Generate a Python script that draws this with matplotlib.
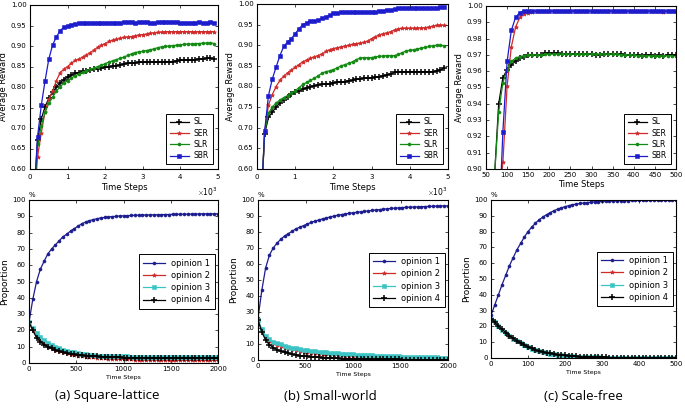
import numpy as np
import matplotlib
matplotlib.use("Agg")
import matplotlib.pyplot as plt
from matplotlib.ticker import FormatStrFormatter, MultipleLocator, ScalarFormatter

plt.style.use('classic')
plt.rcParams.update({
    'figure.facecolor': 'white',
    'savefig.facecolor': 'white',
    'font.family': ['DejaVu Sans'],
    'font.size': 5,
    'xtick.labelsize': 5,
    'ytick.labelsize': 5,
    'axes.labelsize': 6,
    'legend.fontsize': 5.5,
    'legend.numpoints': 1,
    'lines.linewidth': 0.9,
    'xtick.major.size': 2.5,
    'ytick.major.size': 2.5,
    'xtick.major.pad': 2.5,
    'ytick.major.pad': 2.5,
    'axes.linewidth': 0.8,
})

# ---------------- data ----------------
reward_steps_ab = np.arange(100, 5000, 100)   # 49 samples
reward_steps_c = np.arange(70, 510, 10)       # 44 samples
prop_steps_ab = np.arange(0, 2040, 40)        # 51 samples
prop_steps_c = np.arange(0, 510, 10)          # 51 samples

methods = ['SL', 'SER', 'SLR', 'SBR']
opinions = ['opinion 1', 'opinion 2', 'opinion 3', 'opinion 4']
captions = ['(a) Square-lattice', '(b) Small-world', '(c) Scale-free']

SL_a = [0.52, 0.67, 0.722, 0.752, 0.772, 0.787, 0.80, 0.81, 0.818, 0.824,
        0.829, 0.833, 0.835, 0.838, 0.84, 0.842, 0.843, 0.845, 0.846, 0.848,
        0.849, 0.851, 0.852, 0.854, 0.856, 0.858, 0.859, 0.859, 0.86, 0.86,
        0.86, 0.86, 0.861, 0.861, 0.861, 0.862, 0.862, 0.862, 0.864, 0.865,
        0.866, 0.866, 0.866, 0.867, 0.868, 0.868, 0.87, 0.87, 0.869]
SER_a = [0.50, 0.63, 0.688, 0.74, 0.77, 0.79, 0.815, 0.835, 0.843, 0.85,
         0.858, 0.865, 0.868, 0.873, 0.878, 0.884, 0.89, 0.897, 0.902, 0.906,
         0.911, 0.914, 0.916, 0.919, 0.921, 0.922, 0.923, 0.925, 0.927, 0.928,
         0.929, 0.931, 0.932, 0.933, 0.934, 0.935, 0.935, 0.935, 0.935, 0.935,
         0.935, 0.935, 0.935, 0.935, 0.935, 0.935, 0.935, 0.935, 0.935]
SLR_a = [0.50, 0.66, 0.705, 0.738, 0.76, 0.775, 0.79, 0.80, 0.81, 0.815,
         0.822, 0.827, 0.832, 0.836, 0.84, 0.843, 0.846, 0.85, 0.853, 0.857,
         0.861, 0.864, 0.867, 0.87, 0.873, 0.877, 0.881, 0.884, 0.886, 0.887,
         0.889, 0.891, 0.893, 0.896, 0.898, 0.899, 0.90, 0.901, 0.902, 0.903,
         0.904, 0.905, 0.905, 0.906, 0.906, 0.907, 0.907, 0.908, 0.906]
SBR_a = [0.52, 0.678, 0.755, 0.815, 0.868, 0.902, 0.922, 0.937, 0.946, 0.949,
         0.952, 0.954, 0.955, 0.955, 0.955, 0.955, 0.955, 0.955, 0.955, 0.955,
         0.956, 0.956, 0.957, 0.957, 0.958, 0.958, 0.958, 0.957, 0.958, 0.958,
         0.958, 0.957, 0.957, 0.958, 0.958, 0.959, 0.959, 0.958, 0.958, 0.957,
         0.957, 0.957, 0.957, 0.957, 0.958, 0.957, 0.957, 0.958, 0.957]

SL_b = [0.50, 0.685, 0.725, 0.738, 0.75, 0.76, 0.768, 0.775, 0.781, 0.786,
        0.79, 0.793, 0.797, 0.80, 0.802, 0.804, 0.805, 0.806, 0.807, 0.809,
        0.81, 0.811, 0.812, 0.814, 0.815, 0.817, 0.818, 0.82, 0.82, 0.821,
        0.822, 0.824, 0.826, 0.828, 0.831, 0.834, 0.836, 0.836, 0.836, 0.836,
        0.836, 0.836, 0.836, 0.836, 0.836, 0.836, 0.838, 0.84, 0.845]
SER_b = [0.50, 0.69, 0.755, 0.78, 0.80, 0.815, 0.825, 0.833, 0.84, 0.847,
         0.853, 0.86, 0.864, 0.868, 0.872, 0.875, 0.879, 0.885, 0.889, 0.892,
         0.894, 0.896, 0.898, 0.90, 0.902, 0.904, 0.905, 0.907, 0.91, 0.916,
         0.921, 0.925, 0.928, 0.93, 0.933, 0.937, 0.94, 0.941, 0.941, 0.941,
         0.941, 0.942, 0.942, 0.943, 0.944, 0.946, 0.948, 0.949, 0.948]
SLR_b = [0.50, 0.69, 0.735, 0.75, 0.76, 0.767, 0.773, 0.778, 0.784, 0.79,
         0.797, 0.805, 0.81, 0.815, 0.82, 0.826, 0.832, 0.836, 0.838, 0.841,
         0.845, 0.85, 0.853, 0.856, 0.86, 0.865, 0.869, 0.87, 0.87, 0.87,
         0.872, 0.873, 0.874, 0.875, 0.875, 0.875, 0.878, 0.882, 0.886, 0.888,
         0.889, 0.891, 0.893, 0.895, 0.897, 0.899, 0.90, 0.90, 0.899]
SBR_b = [0.50, 0.692, 0.778, 0.818, 0.847, 0.875, 0.897, 0.908, 0.916, 0.928,
         0.94, 0.95, 0.955, 0.958, 0.96, 0.961, 0.965, 0.969, 0.973, 0.977,
         0.979, 0.98, 0.98, 0.98, 0.98, 0.98, 0.98, 0.98, 0.98, 0.98,
         0.981, 0.982, 0.984, 0.985, 0.986, 0.988, 0.99, 0.991, 0.991, 0.991,
         0.991, 0.991, 0.991, 0.991, 0.991, 0.991, 0.991, 0.992, 0.992]

SL_c = [0.895, 0.94, 0.956, 0.961, 0.964, 0.966, 0.968, 0.969, 0.97, 0.97,
        0.97, 0.97, 0.971, 0.971, 0.971, 0.971, 0.9705, 0.9705, 0.9705, 0.9705,
        0.9705, 0.9705, 0.9705, 0.9705, 0.970, 0.970, 0.9705, 0.9705, 0.9705, 0.9705,
        0.9705, 0.970, 0.970, 0.970, 0.970, 0.9695, 0.970, 0.970, 0.9695, 0.970,
        0.9695, 0.970, 0.970, 0.970]
SER_c = [0.80, 0.88, 0.904, 0.951, 0.975, 0.987, 0.993, 0.995, 0.996, 0.9965,
         0.9968, 0.997, 0.997, 0.997, 0.997, 0.997, 0.997, 0.997, 0.997, 0.997,
         0.997, 0.9972, 0.9972, 0.997, 0.997, 0.997, 0.997, 0.997, 0.997, 0.997,
         0.997, 0.997, 0.997, 0.997, 0.997, 0.997, 0.997, 0.9968, 0.997, 0.997,
         0.9966, 0.997, 0.997, 0.997]
SLR_c = [0.895, 0.935, 0.953, 0.961, 0.966, 0.968, 0.969, 0.9695, 0.97, 0.97,
         0.97, 0.97, 0.9705, 0.9705, 0.9705, 0.9705, 0.9705, 0.9705, 0.9705, 0.9705,
         0.9705, 0.9705, 0.9705, 0.9705, 0.9705, 0.9705, 0.9705, 0.9705, 0.9705, 0.9705,
         0.970, 0.970, 0.970, 0.970, 0.9695, 0.9695, 0.9695, 0.9695, 0.9695, 0.9695,
         0.9695, 0.9695, 0.9695, 0.9695]
SBR_c = [0.80, 0.86, 0.923, 0.966, 0.985, 0.993, 0.996, 0.997, 0.997, 0.997,
         0.997, 0.997, 0.997, 0.997, 0.997, 0.997, 0.997, 0.997, 0.997, 0.997,
         0.997, 0.997, 0.997, 0.997, 0.997, 0.997, 0.997, 0.997, 0.997, 0.997,
         0.997, 0.997, 0.997, 0.997, 0.997, 0.997, 0.997, 0.997, 0.997, 0.997,
         0.997, 0.997, 0.997, 0.997]

op1_a = [25, 39, 50, 57.5, 62.5, 67, 70, 72.5, 75, 77.5,
         79, 81, 82.5, 84, 85.5, 86.5, 87.3, 88, 88.5, 89,
         89.3, 89.6, 89.8, 90, 90.2, 90.3, 90.4, 90.5, 90.6, 90.7,
         90.8, 90.8, 90.9, 90.9, 91, 91, 91.1, 91.1, 91.2, 91.2,
         91.3, 91.3, 91.3, 91.4, 91.4, 91.4, 91.5, 91.5, 91.5, 91.5,
         91.5]
op2_a = [25, 20.5, 16.5, 13.5, 11.5, 10, 9, 8, 7.2, 6.5,
         6, 5.5, 5, 4.6, 4.2, 3.9, 3.6, 3.4, 3.2, 3.0,
         2.8, 2.7, 2.6, 2.5, 2.4, 2.3, 2.2, 2.15, 2.1, 2.05,
         2.0, 1.95, 1.9, 1.9, 1.85, 1.8, 1.8, 1.75, 1.75, 1.7,
         1.7, 1.7, 1.65, 1.65, 1.65, 1.6, 1.6, 1.6, 1.6, 1.6,
         1.6]
op3_a = [25, 21.5, 18.5, 16, 14, 12.5, 11, 10, 9, 8.2,
         7.5, 7, 6.5, 6, 5.6, 5.3, 5, 4.8, 4.6, 4.5,
         4.4, 4.3, 4.2, 4.1, 4.1, 4.0, 4.0, 3.9, 3.9, 3.9,
         3.9, 3.8, 3.8, 3.8, 3.8, 3.8, 3.8, 3.7, 3.7, 3.7,
         3.7, 3.7, 3.7, 3.7, 3.7, 3.7, 3.7, 3.7, 3.7, 3.7,
         3.7]
op4_a = [25, 20, 15.5, 13, 11, 10, 9, 8, 7.2, 6.6,
         6, 5.6, 5.3, 5, 4.7, 4.5, 4.3, 4.1, 4.0, 3.8,
         3.7, 3.6, 3.5, 3.4, 3.4, 3.3, 3.3, 3.2, 3.2, 3.2,
         3.1, 3.1, 3.1, 3.1, 3.0, 3.0, 3.0, 3.0, 3.0, 3.0,
         3.0, 3.0, 3.0, 3.0, 3.0, 3.0, 3.0, 3.0, 3.0, 3.0,
         3.0]

op1_b = [26, 43.5, 57.5, 65.5, 70, 73, 75.5, 77.5, 79, 80.5,
         82, 83, 84, 85, 86, 86.8, 87.5, 88.2, 88.8, 89.4,
         90, 90.5, 90.9, 91.3, 91.7, 92, 92.3, 92.6, 92.9, 93.2,
         93.5, 93.8, 94, 94.3, 94.5, 94.7, 94.9, 95.1, 95.3, 95.4,
         95.5, 95.6, 95.7, 95.8, 95.9, 96, 96.1, 96.2, 96.3, 96.3,
         96.3]
op2_b = [25, 18.5, 14, 12, 10.5, 9.5, 8.7, 8, 7.3, 6.7,
         6.2, 5.7, 5.3, 4.9, 4.6, 4.3, 4, 3.8, 3.6, 3.4,
         3.2, 3.0, 2.9, 2.8, 2.7, 2.6, 2.5, 2.4, 2.3, 2.2,
         2.1, 2.0, 1.95, 1.9, 1.85, 1.8, 1.75, 1.7, 1.65, 1.6,
         1.55, 1.5, 1.45, 1.4, 1.4, 1.35, 1.3, 1.3, 1.25, 1.2,
         1.2]
op3_b = [25, 19.5, 15, 13, 11.5, 10.5, 9.7, 9, 8.3, 7.7,
         7.2, 6.8, 6.4, 6, 5.7, 5.4, 5.1, 4.9, 4.7, 4.5,
         4.3, 4.1, 3.9, 3.8, 3.6, 3.5, 3.3, 3.2, 3.1, 3.0,
         2.9, 2.8, 2.7, 2.6, 2.5, 2.4, 2.3, 2.2, 2.1, 2.0,
         1.95, 1.9, 1.85, 1.8, 1.75, 1.7, 1.65, 1.6, 1.55, 1.5,
         1.5]
op4_b = [25, 17.5, 12.5, 9.5, 7.8, 6.5, 5.5, 4.8, 4.2, 3.6,
         3.2, 2.8, 2.5, 2.2, 2.0, 1.8, 1.6, 1.4, 1.3, 1.2,
         1.1, 1.0, 0.9, 0.85, 0.8, 0.75, 0.7, 0.65, 0.6, 0.55,
         0.5, 0.5, 0.45, 0.45, 0.4, 0.4, 0.35, 0.35, 0.3, 0.3,
         0.3, 0.25, 0.25, 0.25, 0.2, 0.2, 0.2, 0.2, 0.2, 0.2,
         0.2]

op1_c = [27, 33.5, 40, 46.5, 52.5, 58.5, 63.5, 68.5, 72.5, 76.5,
         80, 82.8, 85.3, 87.5, 89.2, 90.7, 92, 93.2, 94.2, 95,
         95.8, 96.4, 97, 97.4, 97.8, 98.1, 98.4, 98.6, 98.8, 99,
         99.1, 99.2, 99.3, 99.4, 99.5, 99.55, 99.6, 99.65, 99.7, 99.7,
         99.75, 99.75, 99.8, 99.8, 99.8, 99.85, 99.85, 99.85, 99.9, 99.9,
         99.9]
op2_c = [25, 22.5, 20, 17.8, 15.8, 13.8, 12.2, 10.6, 9.2, 8,
         6.8, 5.8, 4.9, 4.2, 3.6, 3.1, 2.7, 2.3, 1.9, 1.6,
         1.4, 1.2, 1.0, 0.85, 0.75, 0.65, 0.55, 0.45, 0.4, 0.35,
         0.3, 0.27, 0.24, 0.21, 0.18, 0.16, 0.14, 0.12, 0.1, 0.1,
         0.09, 0.08, 0.07, 0.07, 0.06, 0.05, 0.05, 0.05, 0.04, 0.04,
         0.04]
op3_c = op2_c
op4_c = [25, 22.7, 20.3, 18.1, 16.1, 14.1, 12.5, 10.9, 9.5, 8.3,
         7.1, 6.1, 5.2, 4.4, 3.8, 3.3, 2.9, 2.5, 2.1, 1.8,
         1.6, 1.35, 1.15, 1.0, 0.85, 0.75, 0.65, 0.55, 0.5, 0.45,
         0.4, 0.35, 0.3, 0.27, 0.24, 0.21, 0.18, 0.16, 0.14, 0.12,
         0.11, 0.1, 0.09, 0.08, 0.07, 0.06, 0.06, 0.06, 0.05, 0.05,
         0.05]

# ---------------- styles ----------------
reward_styles = {
    'SL': dict(color='k', marker='+', ms=4, mew=1.1),
    'SER': dict(color='#d02a2a', marker='*', ms=3, mew=0.5, mec='#d02a2a'),
    'SLR': dict(color='#138a13', marker='o', ms=2.2, mew=0.4, mec='#138a13'),
    'SBR': dict(color='#1c1ccc', marker='s', ms=2.2, mew=0.4, mec='#1c1ccc'),
}
op_styles = [
    dict(color='#1d1d8f', marker='o', ms=2.2, mew=0.4, mec='#1d1d8f'),
    dict(color='#d02a2a', marker='*', ms=3, mew=0.5, mec='#d02a2a'),
    dict(color='#3cc4c4', marker='s', ms=2.2, mew=0.4, mec='#3cc4c4'),
    dict(color='k', marker='+', ms=4, mew=1.1),
]

fig = plt.figure(figsize=(6.85, 4.13), dpi=100)
W, H = 685.0, 413.0

def box(l, t, r, b):
    return [l / W, 1 - b / H, (r - l) / W, (b - t) / H]

top_boxes = [box(30, 5, 218, 169), box(257, 4, 448, 169), box(486, 6, 676, 169)]
bot_boxes = [box(29, 200, 218, 363), box(258, 200, 448, 360), box(491, 200, 676, 358)]

reward_sets = [
    (reward_steps_ab, [SL_a, SER_a, SLR_a, SBR_a]),
    (reward_steps_ab, [SL_b, SER_b, SLR_b, SBR_b]),
    (reward_steps_c, [SL_c, SER_c, SLR_c, SBR_c]),
]
prop_sets = [
    (prop_steps_ab, [op1_a, op2_a, op3_a, op4_a]),
    (prop_steps_ab, [op1_b, op2_b, op3_b, op4_b]),
    (prop_steps_c, [op1_c, op2_c, op3_c, op4_c]),
]

for i, (steps, series) in enumerate(reward_sets):
    ax = fig.add_axes(top_boxes[i])
    for name, vals in zip(methods, series):
        ax.plot(steps, vals, label=name, **reward_styles[name])
    if i < 2:
        ax.set_xlim(0, 5000)
        ax.set_ylim(0.6, 1.0)
        ax.xaxis.set_major_locator(MultipleLocator(1000))
        ax.yaxis.set_major_locator(MultipleLocator(0.05))
        fmt = ScalarFormatter(useMathText=True)
        fmt.set_powerlimits((3, 3))
        ax.xaxis.set_major_formatter(fmt)
        ax.xaxis.get_offset_text().set_fontsize(5.5)
    else:
        ax.set_xlim(50, 500)
        ax.set_ylim(0.9, 1.0)
        ax.xaxis.set_major_locator(MultipleLocator(50))
        ax.yaxis.set_major_locator(MultipleLocator(0.01))
    ax.yaxis.set_major_formatter(FormatStrFormatter('%.2f'))
    ax.set_xlabel('Time Steps', labelpad=1)
    ax.set_ylabel('Average Reward', labelpad=2)
    leg = ax.legend(loc='lower right', handlelength=2.6, borderpad=0.45,
                    labelspacing=0.3, borderaxespad=0.7, handletextpad=0.6)
    leg.get_frame().set_linewidth(0.7)

for i, (steps, series) in enumerate(prop_sets):
    ax = fig.add_axes(bot_boxes[i])
    for name, vals, st in zip(opinions, series, op_styles):
        ax.plot(steps, vals, label=name, **st)
    ax.set_ylim(0, 100)
    ax.yaxis.set_major_locator(MultipleLocator(10))
    if i < 2:
        ax.set_xlim(0, 2000)
        ax.xaxis.set_major_locator(MultipleLocator(500))
    else:
        ax.set_xlim(0, 500)
        ax.xaxis.set_major_locator(MultipleLocator(100))
    ax.set_ylabel('Proportion', fontsize=6.5, labelpad=2)
    ax.set_xlabel('Time Steps', fontsize=4.5, labelpad=2)
    ax.text(0.0, 1.015, '%', transform=ax.transAxes, fontsize=5,
            ha='left', va='bottom')
    leg = ax.legend(loc='center right', handlelength=2.6, borderpad=0.5,
                    labelspacing=0.4, borderaxespad=0.4, handletextpad=0.8,
                    fontsize=6)
    leg.get_frame().set_linewidth(0.7)

cap_x = [107, 330, 583]
for cx, cap in zip(cap_x, captions):
    fig.text(cx / W, 1 - 396 / H, cap, ha='center', va='center',
             fontsize=9.5, family=['Open Sans', 'DejaVu Sans'])

fig.savefig('out.png', dpi=100)
